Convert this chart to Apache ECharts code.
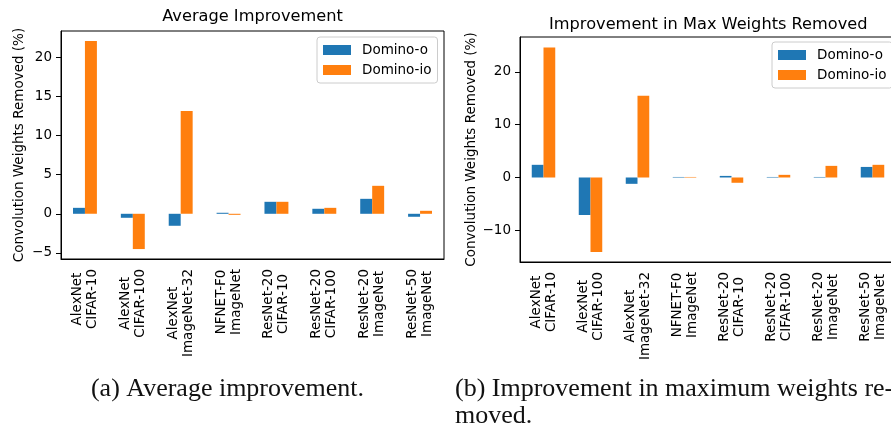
<!DOCTYPE html>
<html>
<head>
<meta charset="utf-8">
<script src="https://cdn.jsdelivr.net/npm/echarts@6/dist/echarts.min.js"></script>
<style>
  html, body { margin: 0; padding: 0; background: #fff; }
  #main { width: 891px; height: 430px; }
</style>
</head>
<body>
<div id="main"></div>
<script>
  // data
  const categories = ['AlexNet\nCIFAR-10', 'AlexNet\nCIFAR-100', 'AlexNet\nImageNet-32', 'NFNET-F0\nImageNet',
    'ResNet-20\nCIFAR-10', 'ResNet-20\nCIFAR-100', 'ResNet-20\nImageNet', 'ResNet-50\nImageNet']
  const seriesNames = ['Domino-o', 'Domino-io']
  const avgDominoO = [0.76, -0.51, -1.53, 0.13, 1.53, 0.64, 1.91, -0.38]
  const avgDominoIO = [22.04, -4.5, 13.12, -0.13, 1.53, 0.76, 3.57, 0.38]
  const maxDominoO = [2.4, -7.1, -1.2, 0.1, 0.3, 0.1, 0.1, 2.0]
  const maxDominoIO = [24.6, -14.1, 15.5, 0.1, -1.0, 0.5, 2.2, 2.4]
  const avgTicks = [-5, 0, 5, 10, 15, 20]
  const maxTicks = [-10, 0, 10, 20]

  const colors = ['#1f77b4', '#ff7f0e']
  const font = 'DejaVu Sans'
  const serif = 'Liberation Serif'
  const yName = 'Convolution Weights Removed (%)'

  let chart = echarts.init(document.getElementById('main'), null, {renderer: 'canvas'})

  function xAxis(gridIndex) {
    return {
      type: 'category',
      gridIndex: gridIndex,
      data: categories,
      boundaryGap: true,
      axisLine: {onZero: false, lineStyle: {color: '#000', width: 1}},
      axisTick: {alignWithLabel: true, length: 5, lineStyle: {color: '#000'}},
      axisLabel: {
        rotate: 90,
        margin: 10,
        interval: 0,
        color: '#000',
        formatter: v => v.split('\n').map(s => '{c|' + s + '}').join('\n'),
        rich: {c: {align: 'center', fontFamily: font, fontSize: 13.5, lineHeight: 15, color: '#000'}}
      }
    }
  }

  function yAxis(gridIndex, min, max, ticks, gap) {
    return {
      type: 'value',
      gridIndex: gridIndex,
      min: min,
      max: max,
      splitLine: {show: false},
      axisLine: {show: true, onZero: false, lineStyle: {color: '#000', width: 1}},
      axisTick: {show: true, length: 5, lineStyle: {color: '#000'}, customValues: ticks},
      axisLabel: {
        margin: 9,
        color: '#000',
        fontFamily: font,
        fontSize: 13.5,
        customValues: ticks,
        formatter: v => String(v).replace('-', '\u2212')
      },
      name: yName,
      nameLocation: 'middle',
      nameGap: gap,
      nameTextStyle: {fontFamily: font, fontSize: 13.5, color: '#000'}
    }
  }

  function bars(name, data, idx, color) {
    return {
      name: name,
      type: 'bar',
      xAxisIndex: idx,
      yAxisIndex: idx,
      data: data,
      barGap: '0%',
      barCategoryGap: '50%',
      itemStyle: {color: color},
      animation: false
    }
  }

  function legend(left, top) {
    return {
      orient: 'vertical',
      left: left,
      top: top,
      data: seriesNames,
      icon: 'rect',
      itemWidth: 28,
      itemHeight: 10,
      itemGap: 4,
      padding: [5, 6, 5, 6],
      borderColor: '#cccccc',
      borderWidth: 1,
      borderRadius: 3,
      backgroundColor: 'rgba(255,255,255,0.8)',
      selectedMode: false,
      textStyle: {fontFamily: font, fontSize: 13.5, color: '#000', lineHeight: 16, padding: [0, 0, 0, 6]}
    }
  }

  let option = {
    animation: false,
    backgroundColor: '#fff',
    grid: [
      {left: 61, top: 31, width: 383, height: 228, show: true, borderColor: '#000', borderWidth: 1, outerBoundsMode: 'none'},
      {left: 520, top: 37, width: 376, height: 225, show: true, borderColor: '#000', borderWidth: 1, outerBoundsMode: 'none'}
    ],
    xAxis: [xAxis(0), xAxis(1)],
    yAxis: [
      yAxis(0, -5.77, 23.33, avgTicks, 35),
      yAxis(1, -16.0, 26.6, maxTicks, 42)
    ],
    legend: [legend(317, 37), legend(772, 42)],
    series: [
      bars(seriesNames[0], avgDominoO, 0, colors[0]),
      bars(seriesNames[1], avgDominoIO, 0, colors[1]),
      bars(seriesNames[0], maxDominoO, 1, colors[0]),
      bars(seriesNames[1], maxDominoIO, 1, colors[1])
    ],
    graphic: [
      {type: 'text', x: 252.5, y: 17,
        style: {text: 'Average Improvement', font: '16.2px "' + font + '"', fill: '#000', textAlign: 'center', textVerticalAlign: 'middle'}},
      {type: 'text', x: 708.3, y: 24.4,
        style: {text: 'Improvement in Max Weights Removed', font: '16.2px "' + font + '"', fill: '#000', textAlign: 'center', textVerticalAlign: 'middle'}},
      {type: 'text', x: 227.5, y: 389.5,
        style: {text: '(a) Average improvement.', font: '26px "' + serif + '"', fill: '#111', textAlign: 'center', textVerticalAlign: 'middle'}},
      {type: 'text', x: 455, y: 389.5,
        style: {text: '(b) Improvement in maximum weights re-', font: '26px "' + serif + '"', fill: '#111', textAlign: 'left', textVerticalAlign: 'middle'}},
      {type: 'text', x: 455, y: 416.5,
        style: {text: 'moved.', font: '26px "' + serif + '"', fill: '#111', textAlign: 'left', textVerticalAlign: 'middle'}}
    ]
  }

  chart.setOption(option)
</script>
</body>
</html>
